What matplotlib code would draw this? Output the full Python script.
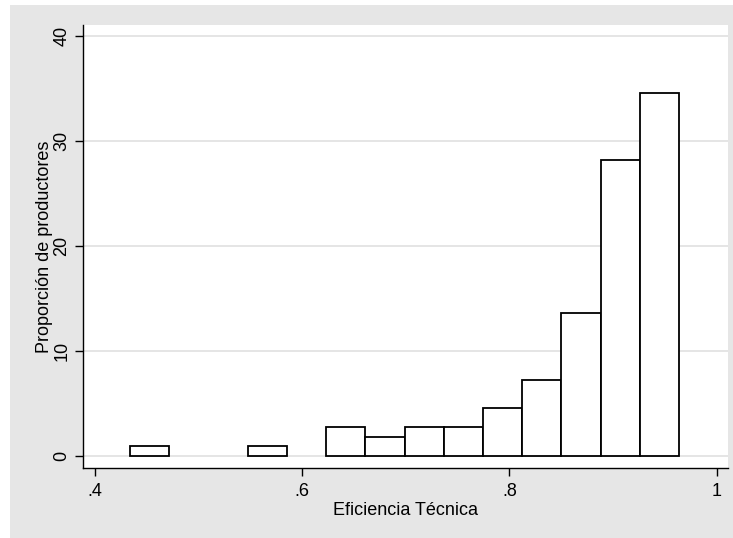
import matplotlib
matplotlib.use("Agg")
import matplotlib.pyplot as plt
import numpy as np
from matplotlib.patches import Rectangle

plt.rcParams['font.family'] = ['Liberation Sans', 'DejaVu Sans']

# Data (histogram: 14 bins)
bin_start = 0.4338
bin_width = 0.03785
percent = [0.909, 0.0, 0.0, 0.909, 0.0, 2.727, 1.818, 2.727, 2.727,
           4.545, 7.273, 13.636, 28.182, 34.545]
xticks = [0.4, 0.6, 0.8, 1.0]
xticklabels = ['.4', '.6', '.8', '1']
yticks = [0, 10, 20, 30, 40]
xlabel = 'Eficiencia Técnica'
ylabel = 'Proporción de productores'

W, H = 733, 538
fig = plt.figure(figsize=(W / 100, H / 100), dpi=100)
fig.patch.set_facecolor('white')
bg = Rectangle((10 / W, 0), 1 - 10 / W, 1 - 5 / H, transform=fig.transFigure,
               facecolor='#E6E6E6', edgecolor='none', zorder=-10)
fig.patches.append(bg)

ax = fig.add_axes([83 / W, (H - 468) / H, (728 - 83) / W, (468 - 25) / H])
ax.set_facecolor('white')

edges = bin_start + bin_width * np.arange(len(percent))
heights = np.array(percent)
mask = heights > 0
ax.bar(edges[mask], heights[mask], width=bin_width, align='edge',
       facecolor='white', edgecolor='black', linewidth=1.3, zorder=3)

ax.set_xlim(0.3884, 1.0109)
ax.set_ylim(-1.14, 41.05)
ax.set_xticks(xticks)
ax.set_xticklabels(xticklabels)
ax.set_yticks(yticks)
ax.set_yticklabels([str(v) for v in yticks], rotation=90, va='center')

ax.grid(axis='y', color='#E3E3E3', linewidth=1.3, zorder=0)
ax.set_axisbelow(True)
for s in ['top', 'right']:
    ax.spines[s].set_visible(False)
for s in ['left', 'bottom']:
    ax.spines[s].set_color('black')
    ax.spines[s].set_linewidth(1.0)
ax.tick_params(axis='both', direction='out', length=6, width=1.0,
               labelsize=13, colors='black', pad=5)
ax.tick_params(axis='y', pad=3)

ax.set_xlabel(xlabel, fontsize=13, labelpad=1)
ax.set_ylabel(ylabel, fontsize=13, labelpad=0)

fig.savefig('out.png', dpi=100)
